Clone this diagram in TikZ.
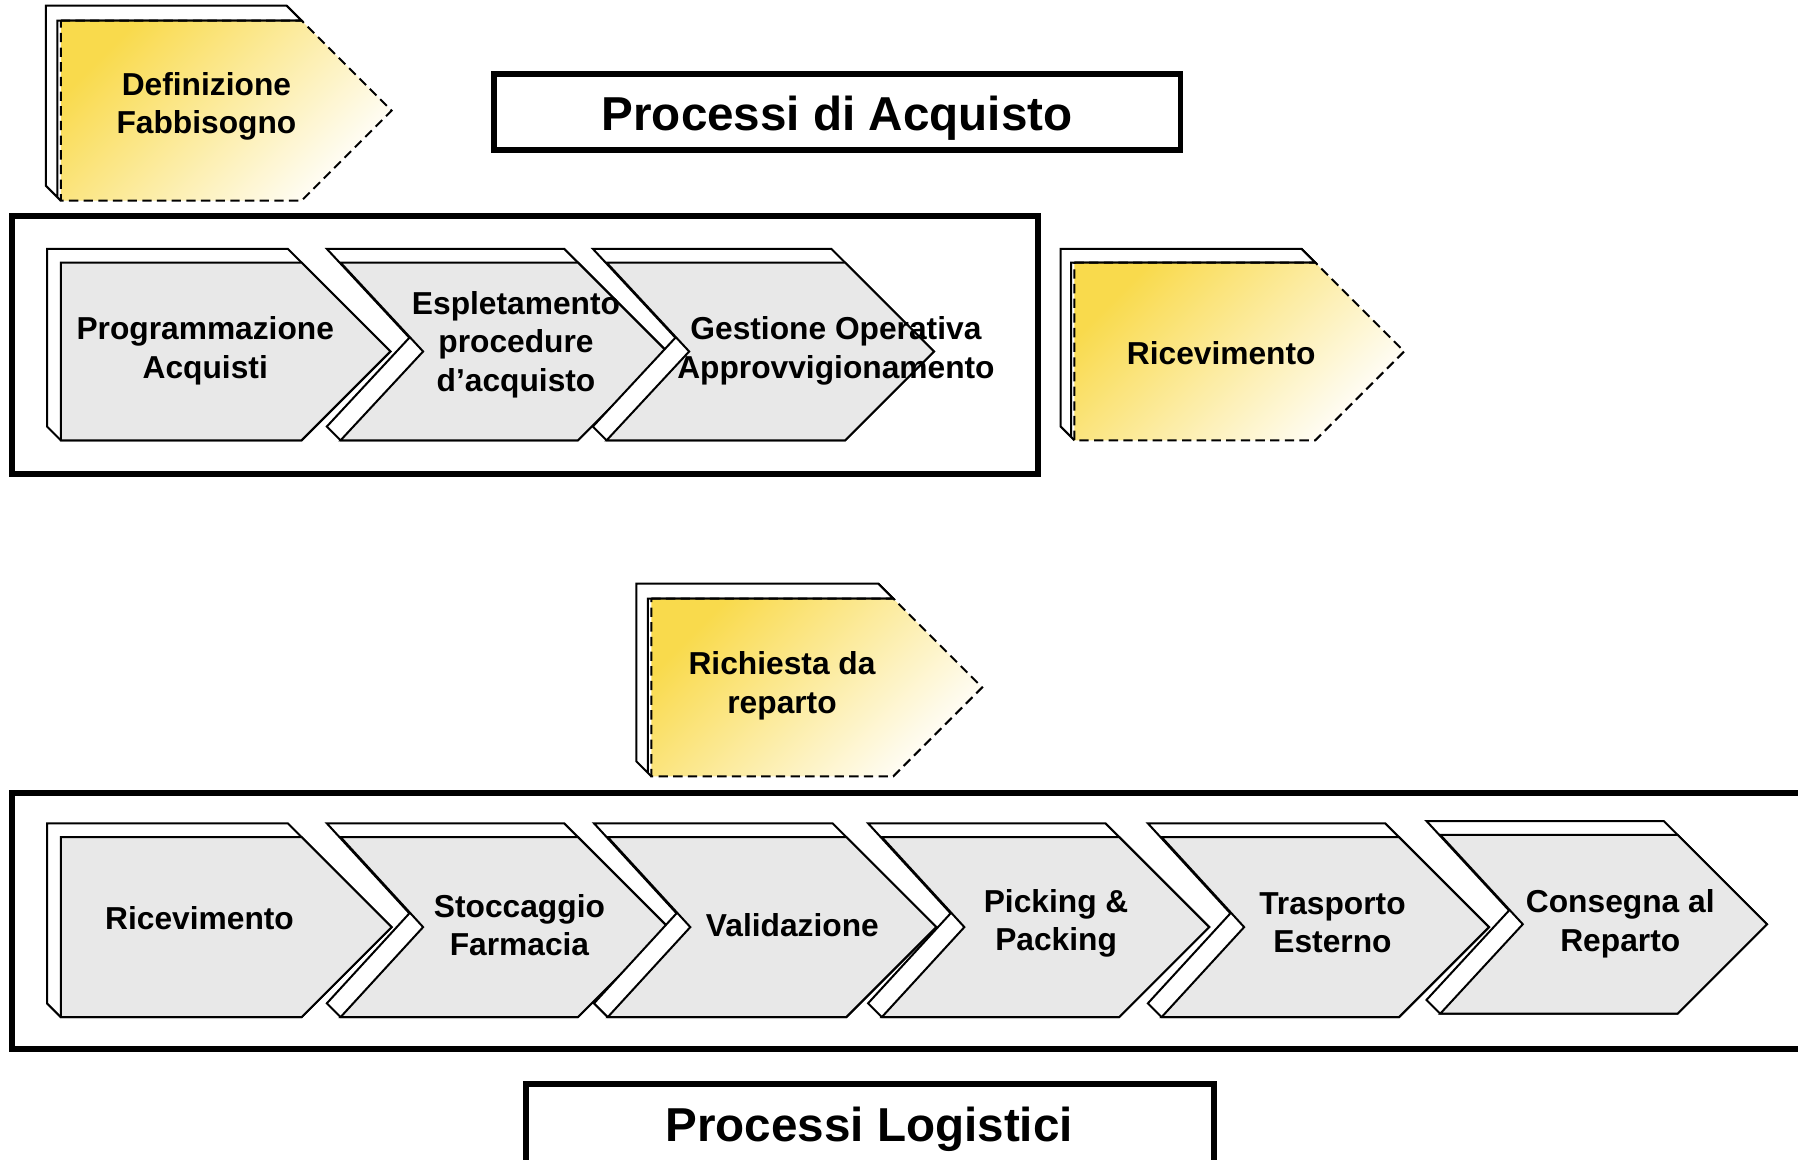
\documentclass[tikz,border=0pt]{standalone}
\usepackage{fontspec}
\setmainfont{Liberation Sans}
\definecolor{chevgrey}{RGB}{232,232,232}
\definecolor{yelA}{RGB}{249,218,76}
\definecolor{yelB}{RGB}{255,254,250}
\tikzset{
  chevline/.style={draw=black, line width=1.5pt, line join=miter},
  dashline/.style={draw=black, line width=1.5pt, dash pattern=on 7pt off 4pt},
  boxline/.style={draw=black, line width=4.3pt},
  chevtext/.style={font=\bfseries\fontsize{23.8}{28.8}\selectfont, align=center, inner sep=0pt},
  titletext/.style={font=\bfseries\fontsize{35.7}{40}\selectfont, inner sep=0pt},
}
% grey 3D chevron: x0, ytop, width, height, notch depth, 3D offset
\newcommand{\grchev}[6]{%
  \draw[chevline, fill=white] ({#1-#6},{#2-#6}) -- ({#1+#3-#6},{#2-#6}) -- ({#1+#3},#2) -- ({#1+#3+#4/2},{#2+#4/2}) -- ({#1+#3},{#2+#4}) -- (#1,{#2+#4}) -- ({#1-#6},{#2+#4-#6}) -- ({#1+#5-#6},{#2+#4/2-#6}) -- cycle;
  \draw[chevline, fill=chevgrey] (#1,#2) -- ++(#3,0) -- ++({#4/2},{#4/2}) -- ++({-#4/2},{#4/2}) -- ++(-#3,0) -- ++(#5,{-#4/2}) -- cycle;
}
% yellow dashed 3D pentagon: x0, ytop, width, height, 3D offset
\newcommand{\ylchev}[5]{%
  \draw[chevline, fill=white] ({#1-#5},{#2-#5}) -- ({#1+#3-#5},{#2-#5}) -- ({#1+#3},#2) -- ({#1-3},#2) -- ({#1-3},{#2+#4-3}) -- (#1,{#2+#4}) -- ({#1-#5},{#2+#4-#5}) -- cycle;
  \draw[dashline, top color=yelA, bottom color=yelB, shading angle=45] (#1,#2) -- ++(#3,0) -- ++({#4/2},{#4/2}) -- ++({-#4/2},{#4/2}) -- ++(-#3,0) -- cycle;
  \draw[chevline] ({#1+#3-#5},{#2-#5}) -- ({#1+#3},#2) -- (#1,#2);
}
\begin{document}
\begin{tikzpicture}[x=0.86pt, y=-0.86pt]
\useasboundingbox (0,0) rectangle (1568,1011);
\fill[white] (0,0) rectangle (1568,1011);

% ---- top: Definizione Fabbisogno + title
\ylchev{53}{18}{210}{157}{13}
\node[chevtext] (defin) at (180,93) {Definizione\\Fabbisogno};

\draw[boxline] (430.5,64.5) rectangle (1029.5,130.5);
\node[titletext] (tacq) at (730,103) {Processi di Acquisto};

% ---- row 1: purchasing
\draw[boxline] (10.5,188.5) rectangle (905.5,413.5);
\grchev{53}{229}{210}{155}{0}{12}
\grchev{297}{229}{207}{155}{72}{12}
\grchev{529}{229}{208}{155}{72}{12}
\node[chevtext] (prog) at (179,306) {Programmazione\\Acquisti};
\node[chevtext] (espl) at (450,300.5) {Espletamento\\procedure\\d’acquisto};
\node[chevtext] (gest) at (729,306) {Gestione Operativa\\Approvvigionamento};

\ylchev{937}{229}{210}{155}{12}
\node[chevtext] (ric1) at (1065,308) {Ricevimento};

% ---- Richiesta da reparto
\ylchev{568}{522}{211}{155}{13}
\node[chevtext] (rich) at (682,598) {Richiesta da\\reparto};

% ---- row 2: logistics
\draw[boxline] (10.5,691.5) rectangle (1590,914.5);
\grchev{53}{730}{210}{157}{0}{12}
\grchev{297}{730}{207}{157}{72}{12}
\grchev{530}{730}{208}{157}{72}{12}
\grchev{769}{730}{207}{157}{72}{12}
\grchev{1013}{730}{207}{157}{72}{12}
\grchev{1256}{728}{207}{156}{72}{12}
\node[chevtext] (ric2) at (174,801) {Ricevimento};
\node[chevtext] (stoc) at (453,807) {Stoccaggio\\Farmacia};
\node[chevtext] (vali) at (691,807) {Validazione};
\node[chevtext] (pick) at (921,805) {Picking \&\\Packing};
\node[chevtext] (tras) at (1162,804.5) {Trasporto\\Esterno};
\node[chevtext] (cons) at (1413,805.5) {Consegna al\\Reparto};

% ---- bottom title
\draw[boxline] (458.5,945.5) rectangle (1058.5,1030);
\node[titletext] (tlog) at (758,985) {Processi Logistici};
\end{tikzpicture}
\end{document}
